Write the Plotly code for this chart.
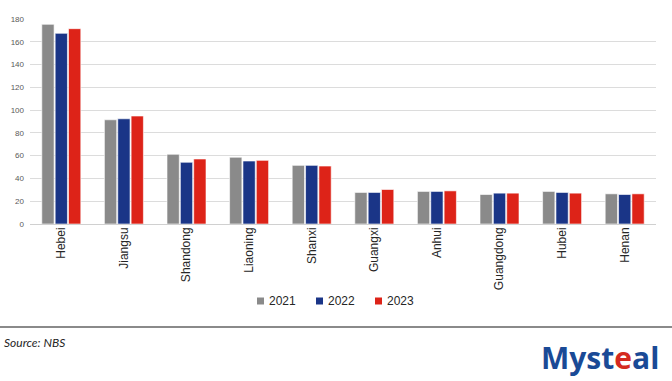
import plotly.graph_objects as go

provinces = ["Hebei", "Jiangsu", "Shandong", "Liaoning", "Shanxi",
             "Guangxi", "Anhui", "Guangdong", "Hubei", "Henan"]
v2021 = [175.3, 91.5, 61.2, 58.6, 51.5, 27.7, 28.6, 25.9, 28.6, 26.5]
v2022 = [167.4, 92.4, 54.2, 55.3, 51.5, 27.7, 28.6, 27.1, 27.7, 25.9]
v2023 = [171.5, 94.8, 57.1, 55.9, 50.9, 30.3, 29.1, 27.1, 27.1, 26.5]
years = ["2021", "2022", "2023"]
colors = ["#8a8a8a", "#1a3587", "#dd2318"]
values = [v2021, v2022, v2023]
yticks = [0, 20, 40, 60, 80, 100, 120, 140, 160, 180]

L, R, T, B = 30, 16, 19, 157
W, H = 672, 381
pw, ph = W - L - R, H - T - B

def px(x):
    return (x - L) / pw

def py(y):
    return (H - B - y) / ph

fig = go.Figure()
for name, vals, col in zip(years, values, colors):
    fig.add_trace(go.Bar(x=provinces, y=vals, name=name, showlegend=False,
                         marker=dict(color=col, line=dict(color="rgba(255,255,255,0.6)", width=1))))

# legend drawn as text + swatches
leg_x0, leg_step, leg_y = 257, 59, 301
shapes = [dict(type="line", xref="paper", yref="paper", x0=px(0), x1=px(W),
               y0=py(327), y1=py(327), line=dict(color="#8a8a8a", width=2))]
annotations = []
for i, (name, col) in enumerate(zip(years, colors)):
    sx = leg_x0 + i * leg_step
    shapes.append(dict(type="rect", xref="paper", yref="paper",
                       x0=px(sx), x1=px(sx + 7), y0=py(leg_y + 3.5), y1=py(leg_y - 3.5),
                       fillcolor=col, line=dict(width=0)))
    annotations.append(dict(text=name, xref="paper", yref="paper", x=px(sx + 10), y=py(leg_y),
                            xanchor="left", yanchor="middle", showarrow=False,
                            font=dict(size=12, color="#262626")))

annotations += [
    dict(text="<i>Source: NBS</i>", xref="paper", yref="paper",
         x=px(2), y=py(333), xanchor="left", yanchor="top",
         showarrow=False, font=dict(size=12, color="#262626", family="Lato, sans-serif")),
    dict(text="<b>Myst<span style='color:#d42a20'>e</span>al</b>", xref="paper", yref="paper",
         x=px(661), y=py(335), xanchor="right", yanchor="top",
         showarrow=False, font=dict(size=30, color="#1a4a96", family="Open Sans, sans-serif")),
]

fig.update_layout(
    width=W, height=H,
    margin=dict(l=L, r=R, t=T, b=B),
    paper_bgcolor="white", plot_bgcolor="white",
    barmode="group", bargap=0.36, bargroupgap=0.08,
    font=dict(family="Liberation Sans, Arial, sans-serif", color="#404040"),
    showlegend=False,
    xaxis=dict(tickangle=-90, tickfont=dict(size=12, color="#262626"), showgrid=False,
               showline=False, ticks="", automargin=False),
    yaxis=dict(range=[0, 180], tickvals=yticks, tickfont=dict(size=8, color="#595959"),
               showgrid=True, gridcolor="#dcdcdc", gridwidth=1, zeroline=True,
               zerolinecolor="#d0d0d0", zerolinewidth=1, ticks="", ticklabelstandoff=5,
               automargin=False),
    shapes=shapes,
    annotations=annotations,
)

fig.write_html("out.html", config={"displayModeBar": False},
               post_script="document.body.style.margin='0px';document.body.style.overflow='hidden';")
